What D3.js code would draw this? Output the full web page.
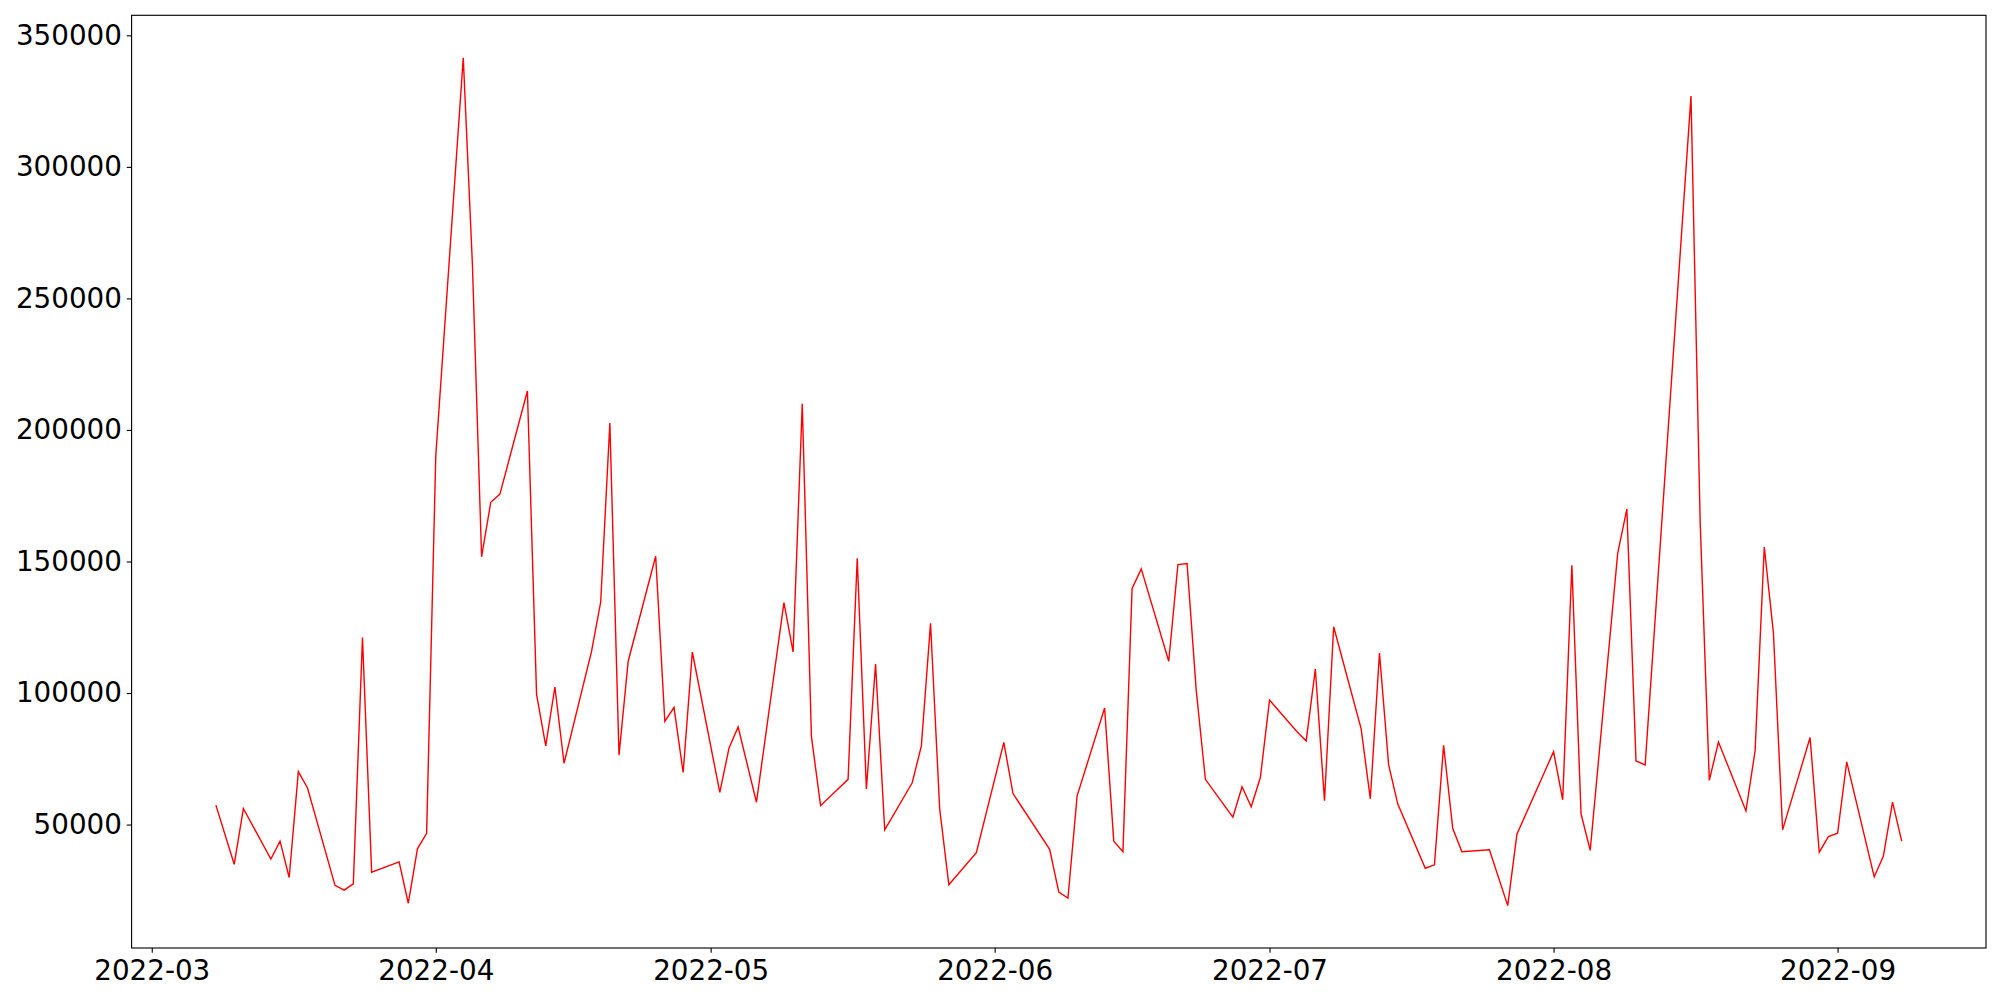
<!DOCTYPE html>
<html>
<head>
<meta charset="utf-8">
<script src="https://cdn.jsdelivr.net/npm/d3@7"></script>
<style>
  html, body { margin: 0; padding: 0; background: #fff; }
  svg { display: block; }
  .tick text { font-family: "DejaVu Sans", sans-serif; font-size: 27.78px; fill: #000; }
</style>
</head>
<body>
<svg id="chart" width="2000" height="1000"></svg>
<script>
const dates = [
  "2022-03-08","2022-03-10","2022-03-11","2022-03-14","2022-03-15","2022-03-16","2022-03-17","2022-03-18","2022-03-21","2022-03-22","2022-03-23","2022-03-24","2022-03-25","2022-03-28","2022-03-29","2022-03-30","2022-03-31",
  "2022-04-01","2022-04-04","2022-04-05","2022-04-06","2022-04-07","2022-04-08","2022-04-11","2022-04-12","2022-04-13","2022-04-14","2022-04-15","2022-04-18","2022-04-19","2022-04-20","2022-04-21","2022-04-22","2022-04-25","2022-04-26","2022-04-27","2022-04-28","2022-04-29",
  "2022-05-02","2022-05-03","2022-05-04","2022-05-06","2022-05-09","2022-05-10","2022-05-11","2022-05-12","2022-05-13","2022-05-16","2022-05-17","2022-05-18","2022-05-19","2022-05-20","2022-05-23","2022-05-24","2022-05-25","2022-05-26","2022-05-27","2022-05-30",
  "2022-06-02","2022-06-03","2022-06-07","2022-06-08","2022-06-09","2022-06-10","2022-06-13","2022-06-14","2022-06-15","2022-06-16","2022-06-17","2022-06-20","2022-06-21","2022-06-22","2022-06-23","2022-06-24","2022-06-27","2022-06-28","2022-06-29","2022-06-30",
  "2022-07-01","2022-07-04","2022-07-05","2022-07-06","2022-07-07","2022-07-08","2022-07-11","2022-07-12","2022-07-13","2022-07-14","2022-07-15","2022-07-18","2022-07-19","2022-07-20","2022-07-21","2022-07-22","2022-07-25","2022-07-27","2022-07-28",
  "2022-08-01","2022-08-02","2022-08-03","2022-08-04","2022-08-05","2022-08-08","2022-08-09","2022-08-10","2022-08-11","2022-08-16","2022-08-17","2022-08-18","2022-08-19","2022-08-22","2022-08-23","2022-08-24","2022-08-25","2022-08-26","2022-08-29","2022-08-30","2022-08-31",
  "2022-09-01","2022-09-02","2022-09-05","2022-09-06","2022-09-07","2022-09-08"
];
const values = [
  57400, 34900, 56100, 36900, 43700, 29900, 70100, 63900, 26900, 25100, 27500, 121100, 31900, 35800, 20100, 40800, 46700,
  190200, 341500, 262800, 151800, 172500, 175600, 214800, 99500, 79900, 102300, 73300, 115800, 134600, 202600, 76400, 112100, 152000, 89200, 94500, 69800, 115600,
  62200, 79000, 87100, 58500, 134400, 115600, 210000, 83400, 57200, 67200, 151200, 63500, 111000, 48000, 65900, 79900, 126500, 55900, 27100, 39300,
  81200, 61800, 40600, 24300, 22100, 60900, 94300, 43700, 39700, 139800, 147200, 112100, 148800, 149200, 101000, 67200, 52800, 64400, 56800, 67900,
  97300, 85300, 81800, 109100, 59100, 125200, 86400, 59800, 115200, 72700, 57800, 33400, 34700, 80100, 48500, 39700, 40400, 19200, 46300,
  77700, 59400, 148600, 54100, 40200, 153100, 169900, 74200, 72700, 326900, 165300, 66800, 81400, 55200, 78100, 155500, 122800, 48000, 83100, 39500, 45400,
  46700, 73800, 30100, 38000, 58500, 43700
];
const yTickValues = [50000, 100000, 150000, 200000, 250000, 300000, 350000];
const xTickFormat = "%Y-%m";

(function () {
  const parse = d3.utcParse("%Y-%m-%d");
  const data = dates.map((d, i) => ({ date: parse(d), value: values[i] }));

  const mL = 131.6, mR = 1986, mT = 15.3, mB = 948;
  const svg = d3.select("#chart");

  const xExt = d3.extent(data, d => d.date);
  const xPad = (xExt[1] - xExt[0]) * 0.05;
  const x = d3.scaleUtc()
    .domain([new Date(+xExt[0] - xPad), new Date(+xExt[1] + xPad)])
    .range([mL, mR]);

  const yExt = d3.extent(data, d => d.value);
  const yPad = (yExt[1] - yExt[0]) * 0.05;
  const y = d3.scaleLinear()
    .domain([yExt[0] - yPad, yExt[1] + yPad])
    .range([mB, mT]);

  const line = d3.line().x(d => x(d.date)).y(d => y(d.value));

  svg.append("path")
    .datum(data)
    .attr("fill", "none")
    .attr("stroke", "#ff0000")
    .attr("stroke-width", 1.4)
    .attr("stroke-linejoin", "miter")
    .attr("d", line);

  const xAxis = d3.axisBottom(x)
    .ticks(d3.utcMonth.every(1))
    .tickFormat(d3.utcFormat(xTickFormat))
    .tickSize(4.86)
    .tickPadding(4.86);
  const gx = svg.append("g").attr("transform", `translate(0,${mB})`).call(xAxis);
  gx.select(".domain").remove();
  gx.selectAll(".tick line").attr("stroke", "#000").attr("stroke-width", 1.11);
  gx.selectAll(".tick text").attr("dy", "0.8em");

  const yAxis = d3.axisLeft(y)
    .tickValues(yTickValues)
    .tickFormat(d3.format("d"))
    .tickSize(4.86)
    .tickPadding(4.86);
  const gy = svg.append("g").attr("transform", `translate(${mL},0)`).call(yAxis);
  gy.select(".domain").remove();
  gy.selectAll(".tick line").attr("stroke", "#000").attr("stroke-width", 1.11);

  svg.append("rect")
    .attr("x", mL).attr("y", mT)
    .attr("width", mR - mL).attr("height", mB - mT)
    .attr("fill", "none")
    .attr("stroke", "#000")
    .attr("stroke-width", 1.11);
})();
</script>
</body>
</html>
